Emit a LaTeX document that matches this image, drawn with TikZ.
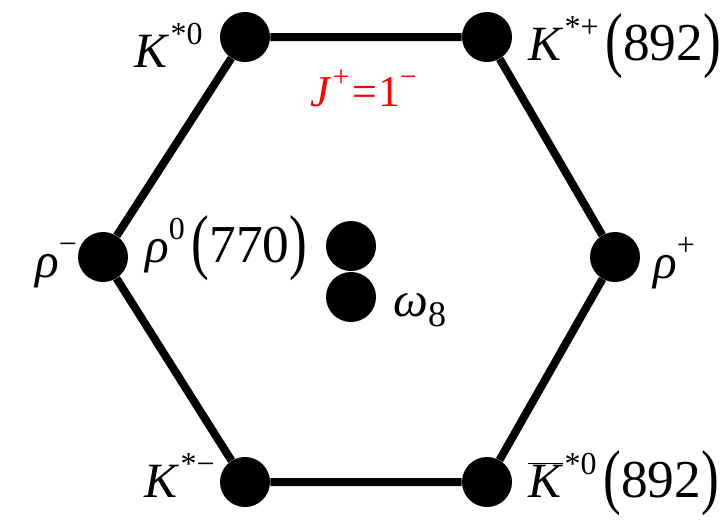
\documentclass[tikz,border=0pt]{standalone}
\usepackage{fontspec}
\usepackage{graphicx}
\setmainfont{Liberation Serif}
\newcommand{\sups}[1]{\raisebox{0.45em}{\fontsize{24}{24}\selectfont #1}}
\newcommand{\subs}[1]{\raisebox{-0.22em}{\fontsize{27}{27}\selectfont #1}}
\newcommand{\tallparen}[1]{\raisebox{-0.06em}{\scalebox{1}[1.35]{#1}}}
\newcommand{\mass}[1]{{\fontsize{40}{40}\selectfont\tallparen{(}#1\tallparen{)}}}

\begin{document}
\begin{tikzpicture}[x=0.75pt,y=-0.75pt]
	\tikzset{
		meson/.style={circle,fill=black,inner sep=0pt,minimum size=37.5pt},
		lbl/.style={font=\fontsize{37}{37}\selectfont,inner sep=0pt},
		side/.style={line width=6pt}
	}
	\useasboundingbox (0,0) rectangle (728,519);
	% the octet
	\node[meson] (kz) at (245,37) {};
	\node[meson] (kp) at (487,37) {};
	\node[meson] (rp) at (615,257) {};
	\node[meson] (akz) at (487,482) {};
	\node[meson] (km) at (245,482) {};
	\node[meson] (rm) at (103,257) {};
	\draw[side] (kz) -- (kp) -- (rp) -- (akz) -- (km) -- (rm) -- (kz);
	% centre
	\node[meson] (rz) at (351,246) {};
	\node[meson] (wo) at (351,297) {};
	% labels
	\node[lbl,anchor=base east] (kzl) at (203,67) {\textit{K}\kern1pt\sups{*0}};
	\node[lbl,anchor=base west] (kpl) at (528,60) {\textit{K}\kern1pt\sups{*+}\kern5pt\mass{892}};
	\node[lbl,anchor=base west,text=red,font=\fontsize{33}{33}\selectfont] (jp) at (310,106) {\textit{J}\kern1pt\raisebox{0.45em}{\fontsize{22}{22}\selectfont +}\kern2pt=\kern1pt1\raisebox{0.45em}{\fontsize{22}{22}\selectfont −}};
	\node[lbl,anchor=base west] (rml) at (35,277) {\textit{ρ}\sups{−}};
	\node[lbl,anchor=base west] (rzl) at (145,262) {\textit{ρ}\sups{0}\kern5pt\mass{770}};
	\node[lbl,anchor=base west] (wol) at (393,316) {\textit{ω}\subs{8}};
	\node[lbl,anchor=base west] (rpl) at (653,278) {\textit{ρ}\sups{+}};
	\node[lbl,anchor=base east] (kml) at (215,497) {\textit{K}\kern1pt\sups{*−}};
	\node[lbl,anchor=base west] (akzl) at (528,497) {$\overline{\hbox{\textit{K}}}$\kern1pt\sups{*0}\kern5pt\mass{892}};
\end{tikzpicture}
\end{document}
